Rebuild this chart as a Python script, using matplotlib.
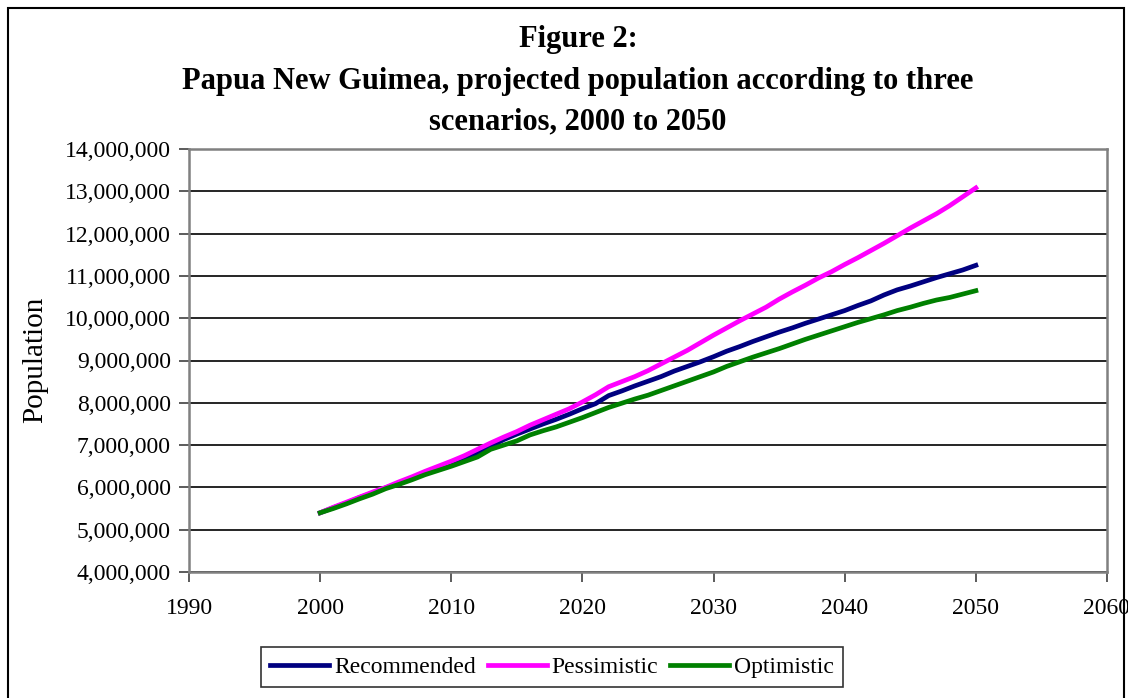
import matplotlib.pyplot as plt
from matplotlib.patches import Rectangle
from matplotlib.ticker import FuncFormatter

# Годы и население по трём сценариям (млн человек)
years = list(range(2000, 2051))

recommended = [5.40, 5.52, 5.63, 5.76, 5.87, 5.99, 6.10, 6.21, 6.33, 6.44,
               6.56, 6.68, 6.80, 6.97, 7.13, 7.26, 7.38, 7.50, 7.61, 7.73,
               7.86, 7.98, 8.17, 8.28, 8.40, 8.51, 8.62, 8.75, 8.86, 8.97,
               9.09, 9.22, 9.33, 9.45, 9.56, 9.67, 9.77, 9.88, 9.98, 10.08,
               10.18, 10.30, 10.41, 10.55, 10.67, 10.76, 10.86, 10.96, 11.05, 11.14,
               11.25]

pessimistic = [5.40, 5.53, 5.65, 5.77, 5.89, 6.00, 6.13, 6.25, 6.38, 6.50,
               6.62, 6.75, 6.90, 7.05, 7.19, 7.32, 7.47, 7.60, 7.73, 7.86,
               8.02, 8.19, 8.38, 8.50, 8.62, 8.76, 8.92, 9.08, 9.24, 9.42,
               9.60, 9.77, 9.94, 10.10, 10.26, 10.45, 10.62, 10.78, 10.95, 11.10,
               11.27, 11.43, 11.60, 11.77, 11.95, 12.13, 12.30, 12.47, 12.66, 12.87,
               13.08]

optimistic = [5.40, 5.50, 5.61, 5.73, 5.84, 5.97, 6.07, 6.18, 6.30, 6.40,
              6.50, 6.61, 6.72, 6.90, 7.00, 7.10, 7.24, 7.34, 7.43, 7.54,
              7.65, 7.77, 7.89, 7.99, 8.09, 8.18, 8.29, 8.40, 8.51, 8.62,
              8.73, 8.86, 8.97, 9.08, 9.18, 9.28, 9.39, 9.50, 9.60, 9.70,
              9.80, 9.90, 9.99, 10.08, 10.18, 10.26, 10.35, 10.43, 10.49, 10.57,
              10.65]

x_ticks = [1990, 2000, 2010, 2020, 2030, 2040, 2050, 2060]
y_ticks = [4e6, 5e6, 6e6, 7e6, 8e6, 9e6, 10e6, 11e6, 12e6, 13e6, 14e6]

plt.rcParams['font.family'] = ['Liberation Serif', 'DejaVu Serif']

fig = plt.figure(figsize=(11.28, 6.98), dpi=100)
ax = fig.add_axes([189 / 1128, 126 / 698, 918 / 1128, 423 / 698])

# Рамка вокруг всей картинки
fig.patches.append(Rectangle((8 / 1128, -0.05), 1116 / 1128, 0.05 + 690 / 698,
                             transform=fig.transFigure, fill=False,
                             edgecolor='black', linewidth=1.5))

ax.plot(years, [v * 1e6 for v in recommended], color='#000080', lw=3.4, label='Recommended')
ax.plot(years, [v * 1e6 for v in pessimistic], color='#FF00FF', lw=3.4, label='Pessimistic')
ax.plot(years, [v * 1e6 for v in optimistic], color='#008000', lw=3.4, label='Optimistic')

ax.set_xlim(1990, 2060)
ax.set_ylim(4e6, 14e6)
ax.set_xticks(x_ticks)
ax.set_yticks(y_ticks)
ax.yaxis.set_major_formatter(FuncFormatter(lambda v, p: f'{int(v):,}'))
ax.tick_params(labelsize=17, length=7, width=1.2, color='#404040', pad=6)
ax.tick_params(axis='x', pad=12)

ax.set_axisbelow(True)
ax.grid(axis='y', color='black', lw=1.2)
for s in ax.spines.values():
    s.set_color('#808080')
    s.set_linewidth(1.8)

# Заголовок
fig.text(578 / 1128, 1 - 40 / 698, 'Figure 2:', ha='center', va='center',
         fontsize=22, fontweight='bold')
fig.text(578 / 1128, 1 - 82 / 698, 'Papua New Guimea, projected population according to three',
         ha='center', va='center', fontsize=22, fontweight='bold')
fig.text(578 / 1128, 1 - 122 / 698, 'scenarios, 2000 to 2050', ha='center', va='center',
         fontsize=22, fontweight='bold')

fig.text(35 / 1128, 1 - 360 / 698, 'Population', rotation=90, ha='center', va='center',
         fontsize=21)

leg = fig.legend(loc='center', bbox_to_anchor=(552 / 1128, 1 - 667 / 698), ncol=3,
                 fontsize=17, frameon=True, fancybox=False, handlelength=2.5,
                 handletextpad=0.2, columnspacing=0.5, borderpad=0.4)
leg.get_frame().set_edgecolor('black')
leg.get_frame().set_linewidth(1.2)

fig.savefig('out.png', dpi=100)
